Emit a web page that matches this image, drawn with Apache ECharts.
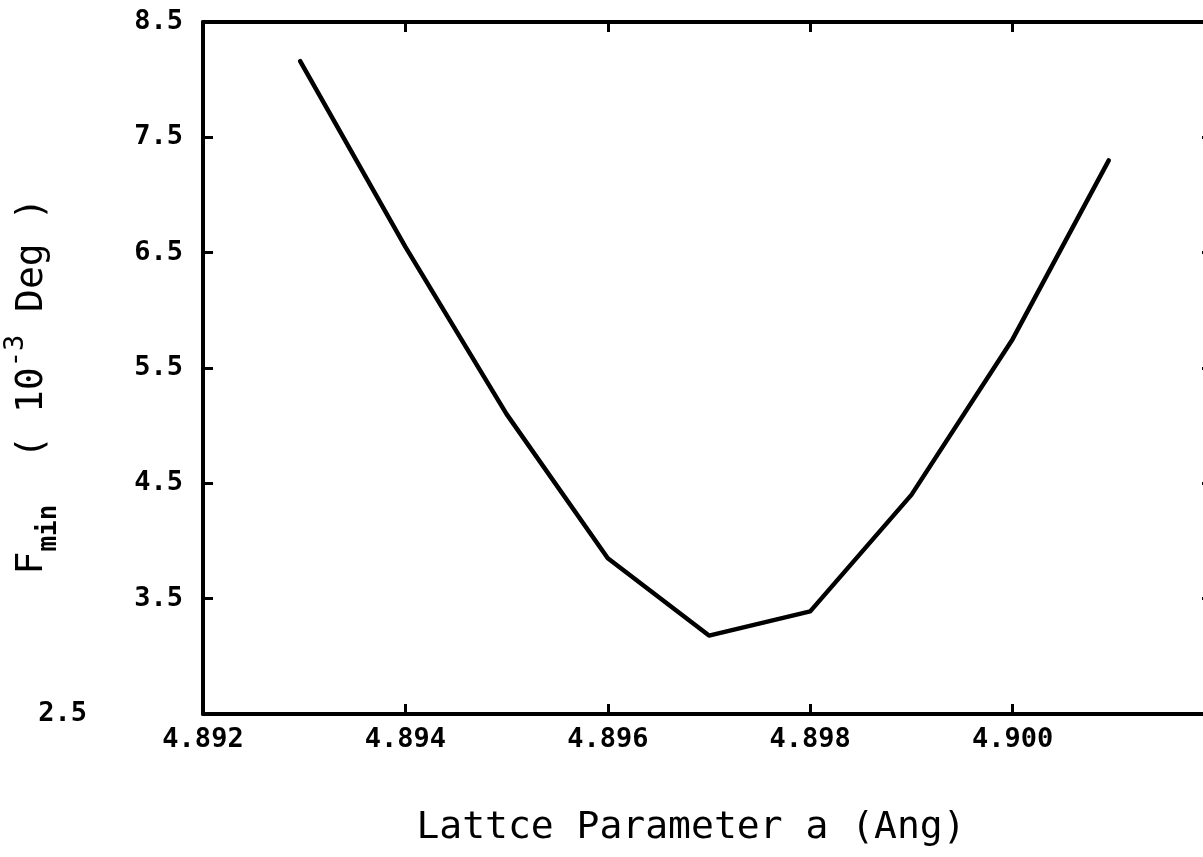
<!DOCTYPE html>
<html>
<head>
<meta charset="utf-8">
<script src="https://cdn.jsdelivr.net/npm/echarts@6/dist/echarts.min.js"></script>
<style>
html,body{margin:0;padding:0;background:#fff;}
#chart{width:1203px;height:857px;}
</style>
</head>
<body>
<div id="chart"></div>
<script>
// Data
const latticeA = [4.89296, 4.894, 4.895, 4.896, 4.897, 4.898, 4.899, 4.900, 4.90095];
const fMin = [8.16, 6.55, 5.10, 3.85, 3.18, 3.39, 4.40, 5.75, 7.30];
const xTitle = 'Lattce Parameter a (Ang)';
const yTitleParts = ['F', 'min', '  ( 10', '-3', ' Deg )'];

const mono = 'DejaVu Sans Mono';
const chart = echarts.init(document.getElementById('chart'));

const axisLine = {show: true, lineStyle: {color: '#000', width: 4}};
const ticks = {show: true, inside: true, length: 10, lineStyle: {color: '#000', width: 3}};
const labelStyle = {color: '#000', fontFamily: mono, fontWeight: 'bold', fontSize: 27};

chart.setOption({
  animation: false,
  backgroundColor: '#fff',
  grid: {left: 203, top: 22, width: 1012, height: 692, containLabel: false, outerBoundsMode: 'none'},
  xAxis: [{
    type: 'value', position: 'bottom',
    min: 4.892, max: 4.902, interval: 0.002,
    axisLine: axisLine, axisTick: ticks, splitLine: {show: false},
    axisLabel: Object.assign({margin: 12, showMaxLabel: false,
      formatter: v => v.toFixed(3)}, labelStyle),
    name: xTitle, nameLocation: 'middle', nameGap: 95,
    nameTextStyle: {color: '#000', fontFamily: mono, fontSize: 38, padding: [0, 36, 0, 0]}
  }, {
    type: 'value', position: 'top',
    min: 4.892, max: 4.902, interval: 0.002,
    axisLine: axisLine, axisTick: ticks, splitLine: {show: false},
    axisLabel: {show: false}
  }],
  yAxis: [{
    type: 'value', position: 'left',
    min: 2.5, max: 8.5, interval: 1,
    axisLine: axisLine, axisTick: ticks, splitLine: {show: false},
    axisLabel: Object.assign({margin: 20,
      formatter: v => Math.abs(v - 2.5) < 1e-9 ? '{far|' + v.toFixed(1) + '}' : v.toFixed(1),
      rich: {far: {padding: [0, 96, 0, 0], color: '#000', fontFamily: mono, fontWeight: 'bold', fontSize: 27}}
    }, labelStyle)
  }, {
    type: 'value', position: 'right',
    min: 2.5, max: 8.5, interval: 1,
    axisLine: axisLine, axisTick: Object.assign({}, ticks, {length: 13}), splitLine: {show: false},
    axisLabel: {show: false}
  }],
  graphic: [{
    type: 'text',
    x: 32, y: 386,
    rotation: Math.PI / 2,
    style: {
      text: '{t|' + yTitleParts[0] + '}{sub|' + yTitleParts[1] + '}{t|' + yTitleParts[2] +
            '}{sup|' + yTitleParts[3] + '}{t|' + yTitleParts[4] + '}',
      align: 'center', verticalAlign: 'middle',
      rich: {
        t: {fontFamily: mono, fontSize: 38, color: '#000', lineHeight: 60, verticalAlign: 'middle'},
        sub: {fontFamily: mono, fontSize: 26, fontWeight: 'bold', color: '#000', lineHeight: 28, verticalAlign: 'bottom'},
        sup: {fontFamily: mono, fontSize: 27, color: '#000', lineHeight: 44, verticalAlign: 'top'}
      }
    }
  }],
  series: [{
    type: 'line',
    data: latticeA.map((x, i) => [x, fMin[i]]),
    showSymbol: false,
    lineStyle: {color: '#000', width: 4.5, cap: 'round', join: 'round'},
    clip: true
  }]
});
</script>
</body>
</html>
